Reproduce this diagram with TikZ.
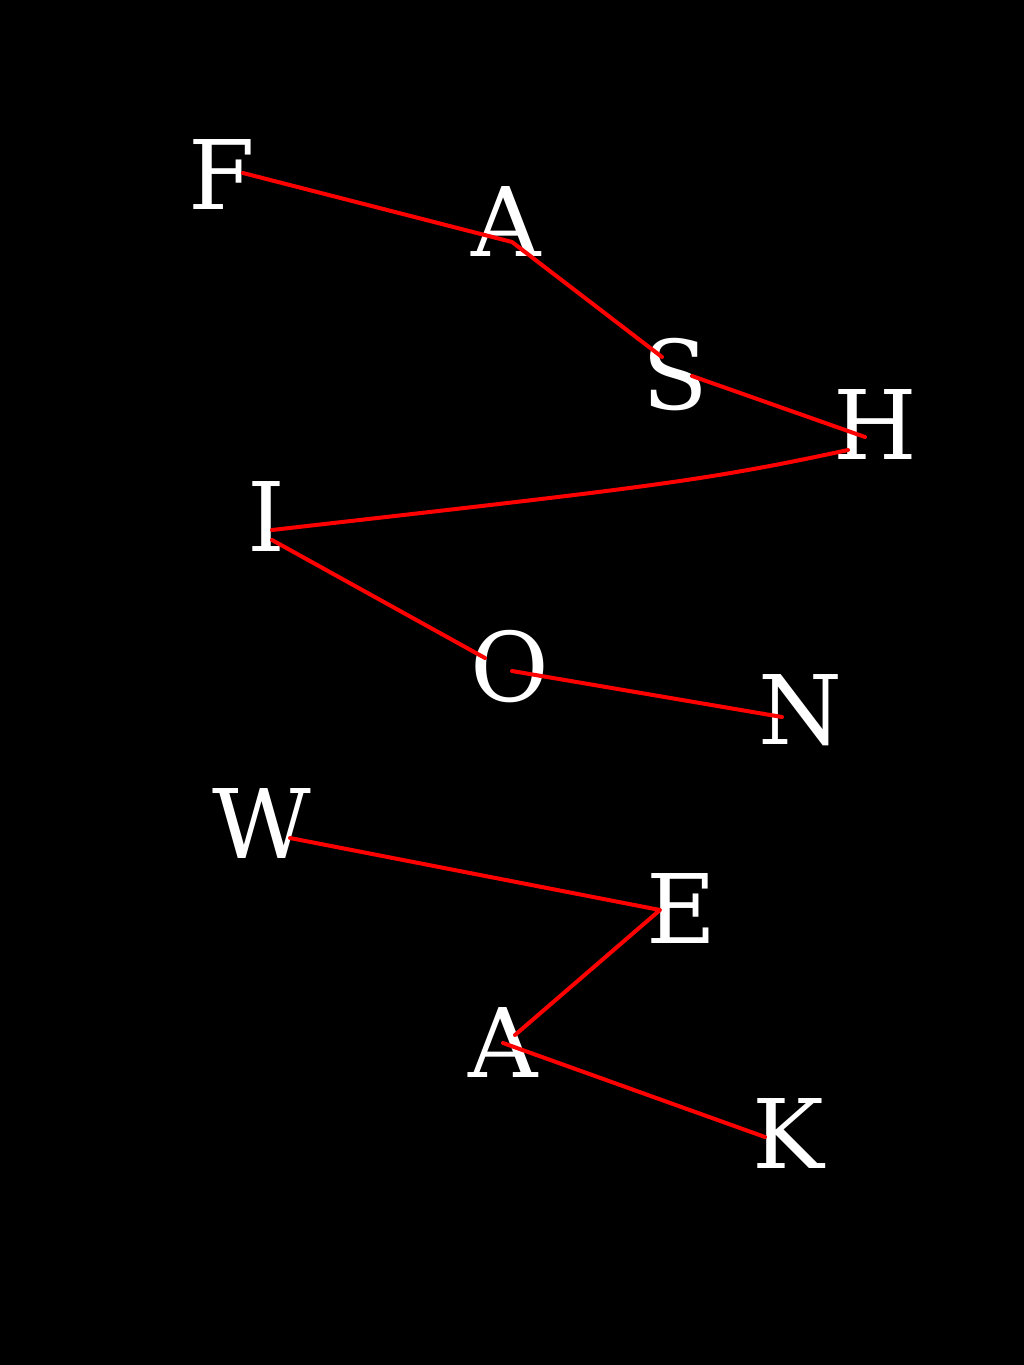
\documentclass[tikz,border=0pt]{standalone}
\usepackage{fontspec}
\setmainfont{DejaVu Serif}
\begin{document}
\begin{tikzpicture}[x=1pt,y=-1pt,
  letter/.style={text=white,font=\fontsize{96}{96}\selectfont,inner sep=0pt,anchor=center},
  link/.style={draw=red,line width=4pt,line cap=round,line join=round}]
\fill[black] (0,0) rectangle (1024,1365);
\useasboundingbox (0,0) rectangle (1024,1365);
\node[letter] (F) at (222,175) {F};
\node[letter] (A1) at (506,222) {A};
\node[letter] (S) at (675,375) {S};
\node[letter] (H) at (875,425) {H};
\node[letter] (I) at (266,517) {I};
\node[letter] (O) at (510,667) {O};
\node[letter] (N) at (800,710) {N};
\node[letter] (W) at (262,823) {W};
\node[letter] (E) at (682,908) {E};
\node[letter] (A2) at (503,1042) {A};
\node[letter] (K) at (788,1133) {K};
\coordinate (f1) at (243,173);
\coordinate (a1) at (512,242);
\coordinate (s1) at (662,357);
\coordinate (s2) at (692,376);
\coordinate (h1) at (865,437);
\coordinate (h2) at (848,450);
\coordinate (i1) at (272,530);
\coordinate (i2) at (272,540);
\coordinate (o1) at (485,658);
\coordinate (o2) at (512,671);
\coordinate (n1) at (782,717);
\coordinate (w1) at (290,838);
\coordinate (e1) at (660,910);
\coordinate (a2) at (515,1035);
\coordinate (a3) at (503,1043);
\coordinate (k1) at (765,1137);
\draw[link] (f1) -- (a1) -- (s1);
\draw[link] (s2) -- (h1);
\draw[link] (h2) .. controls (700,482) and (640,488) .. (i1);
\draw[link] (i2) -- (o1);
\draw[link] (o2) -- (n1);
\draw[link] (w1) -- (e1) -- (a2);
\draw[link] (a3) -- (k1);
\end{tikzpicture}
\end{document}
